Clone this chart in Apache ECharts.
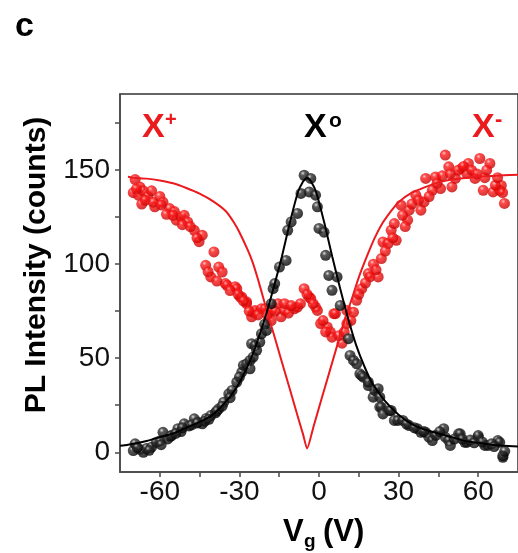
<!DOCTYPE html>
<html>
<head>
<meta charset="utf-8">
<script src="https://cdn.jsdelivr.net/npm/echarts@6/dist/echarts.min.js"></script>
<style>
  html, body { margin: 0; padding: 0; background: #fff; }
  #chart { width: 518px; height: 553px; }
</style>
</head>
<body>
<div id="chart"></div>
<script>
  // measured points, X+ / X- (red) and X0 (black)
  const redVg = [-70, -69.3, -68.1, -67.5, -66.8, -66.2, -64.5, -63.1, -61.9, -60, -58.8, -56.3, -54.5, -53.8, -52, -50.8, -49.5, -47, -45.2, -44,
    -42.7, -40.8, -39.6, -37.8, -36.5, -35.3, -34.7, -31.6, -31, -29.7, -29.1, -27.3, -27.3, -25.4, -24.8, -24.1, -21.7, -20.4, -18, -18,
    -15.5, -14.3, -13, -13, -9.3, -8.1, -5.6, -3.7, -3.1, -1.3, -0.6, 0.6, 3.1, 4.3, 4.9, 5.6, 6.2, 8.7, 10.5, 10.5,
    13, 14.2, 16.1, 18.6, 19.2, 22.3, 23.5, 24.1, 26, 27.2, 28.4, 29.1, 30.9, 33.4, 34, 36.5, 38.4, 39.6, 40.2, 42.7,
    43.9, 45.8, 47.6, 48.9, 50.1, 51.4, 53.8, 55.7, 56.3, 58.8, 60.6, 61.9, 64.4, 65.6, 68.1, 68.7, 69.9,
    -68.8, -65.5, -62.5, -59.5, -57.5, -55, -51.5, -48.5, -46, -41.8, -38.5, -33.5, -30.5, -28.5, -26.3, -23, -19.5, -16.5, -11.5, -10.5,
    -7, -4.5, -2.2, 1.5, 2.5, 7.5, 9.5, 12, 15, 17.5, 20.5, 21.5, 25, 27.8, 31.5, 32.5, 35, 37.5, 41.5, 44.5,
    46.5, 49.5, 52.5, 54.5, 57.5, 59.5, 62.5, 63.2, 66.5, 67.3, 69.2]
  const redPl = [138, 145, 136.7, 141, 132, 139, 136, 139, 130.5, 136, 133, 129.6, 128, 123.4, 125, 126, 122.5, 118, 112, 115.4,
    99.4, 93.2, 106.5, 98.5, 95.8, 89.7, 88.8, 88, 87, 82.5, 82.5, 80, 79, 72, 74.5, 75.4, 76.3, 76.3, 75.4, 70,
    79, 72, 75.4, 79, 76.3, 77.2, 87, 82.5, 81.7, 77.2, 75.4, 68.4, 66.6, 63.9, 61.2, 73.7, 73.7, 58, 68.4, 75.4,
    74.5, 80.8, 87, 95, 93.2, 93.2, 103, 111.8, 111, 118, 121.6, 112.7, 131.4, 123.4, 128.7, 136.7, 128.7, 133.1, 145.6, 139.3,
    146.4, 140.2, 158, 151.8, 141.1, 145.6, 150.9, 148.2, 153.6, 145.6, 156.2, 139.3, 153.6, 138.4, 139.3, 141.9, 132.3,
    140, 134, 133, 131.5, 126.5, 126, 121, 120, 114, 96, 91, 86, 84, 80.5, 75, 73, 73, 75, 74, 78,
    79, 84, 79, 70, 64, 62, 64, 70, 84, 90, 100, 97, 107, 114, 126, 120, 132, 134, 136, 143,
    147, 148, 150, 152, 150, 148, 146, 150, 142, 146, 138]

  const blackVg = [-70, -69.3, -67.5, -66.2, -65, -63.1, -61.3, -60, -58.8, -57, -55.5, -53.2, -52, -50.8, -49, -47, -45.5, -44, -42.5, -40.8,
    -39, -37.8, -35.9, -34, -32.8, -31, -29.1, -28.5, -27.3, -26, -26, -25.4, -24.8, -24.1, -23.5, -22.3, -21.7, -19.8, -18, -17.3,
    -16.7, -14.9, -12.4, -11.8, -10.5, -8.1, -6.8, -5.6, -3.7, -3.1, -1.3, -0.6, 0, 1.9, 2.5, 3.7, 4.9, 6.8, 8, 11.1,
    11.7, 13, 14.2, 15.4, 16.1, 16.7, 18.6, 18.6, 20.4, 21, 22.3, 22.9, 22.9, 23.5, 24.1, 26.6, 27.2, 28.4, 29.7, 31.6,
    34, 37.1, 38.4, 40.2, 41.4, 42.7, 47, 47.6, 48.9, 49.5, 52.6, 53.2, 55, 55.7, 60, 60, 62.5, 63.7, 67.4, 68.1, 69.3, 69.3,
    -68.5, -64, -59.5, -56, -54, -51.5, -48, -46, -43, -41.5, -38.5, -36.5, -33.5, -30, -20.5,
    33, 36, 39.5, 44, 45.5, 51, 54, 57, 58.5, 61.5, 65, 66, 70]
  const blackPl = [0.9, 4.5, 1.5, 0, 2, 2.7, 5.3, 6, 10.6, 7.1, 9, 12.5, 11, 15.1, 14, 17.8, 16, 15.1, 18, 19.5,
    21, 23.1, 26.6, 31.1, 32.9, 37.3, 42.6, 46.2, 47, 48.8, 44.4, 57.7, 50.6, 56.8, 54.2, 58.6, 63, 64.8, 79, 87,
    89.7, 98.5, 102, 118, 122.5, 127, 137.6, 147.3, 138.4, 145.6, 136.7, 130.5, 119, 117, 104.7, 94, 86.1, 93.2, 78.1, 60.4,
    51.5, 48.8, 47, 41.7, 40.8, 39.9, 35.5, 37.3, 29.3, 32.9, 33.8, 29.3, 24, 24, 20.4, 22.2, 22.2, 16.9, 16.9, 16.9,
    14.2, 12.5, 10.6, 10.6, 8, 6.2, 12.5, 8, 6.2, 3.6, 9.8, 9.8, 5.3, 5.3, 8, 8.9, 3.6, 3.6, 6.2, 5.3, -2.7, -1.8,
    2.5, 1, 4, 8.5, 10, 13, 14.5, 15.5, 16.5, 17.5, 22, 24.5, 29, 40, 68,
    15, 13, 11, 9, 11, 7, 7, 6.5, 5, 5.5, 4.5, 3, 0.5]

  // fitted curves
  const fitRedVg = [-72, -70, -65, -60, -55, -50, -45, -40, -35, -32, -30, -27, -25, -23, -21, -19, -17, -14, -11, -8, -6, -4.5,
    -2, 1, 4, 7, 10, 12, 15, 18, 21, 24, 27, 30, 35, 40, 45, 50, 60, 75]
  const fitRedPl = [146.5, 146, 145.5, 144.5, 143, 140.5, 137.5, 133.5, 128, 122, 117, 108, 101, 92, 82, 72, 62.6, 48, 33.6, 19, 9.5, 2,
    14, 28.6, 43, 57.5, 72, 80, 93, 104, 114, 122, 128, 133, 138, 141, 143.5, 145, 146.5, 147.5]
  const fitBlackVg = [-75, -72, -65, -60, -55, -50, -45, -40, -35, -30, -25, -20, -17, -14, -11, -8, -6, -4.5, -3, -1,
    2, 5, 8, 11, 14, 17, 20, 25, 30, 35, 40, 45, 50, 55, 60, 65, 75]
  const fitBlackPl = [3.5, 4, 6, 8, 10, 13, 16, 20, 27, 37, 52, 73, 88, 104, 122, 138, 144, 146, 144, 138,
    122, 104, 87, 71, 57, 46, 37, 27, 20, 15, 12, 10, 8, 6, 5, 4, 3]

  const xMajor = [-60, -30, 0, 30, 60]
  const xTicks = [-60, -45, -30, -15, 0, 15, 30, 45, 60]
  const yMajor = [0, 50, 100, 150]
  const yTicks = [0, 25, 50, 75, 100, 125, 150, 175]

  const pairs = (xs, ys) => xs.map((x, i) => [x, ys[i]])

  const RED = '#ea1a1f'
  const ball = (hi, mid, lo) => ({
    type: 'radial', x: 0.38, y: 0.32, r: 0.72,
    colorStops: [
      { offset: 0, color: hi },
      { offset: 0.28, color: mid },
      { offset: 1, color: lo }
    ]
  })

  const chart = echarts.init(document.getElementById('chart'))
  const font = 'Liberation Sans, Arial, sans-serif'
  const axisCol = '#4a4a4a'

  const option = {
    backgroundColor: '#fff',
    animation: false,
    grid: {
      left: 120, top: 94, width: 404, height: 378,
      show: true, borderColor: '#333', borderWidth: 1.5
    },
    xAxis: {
      type: 'value', min: -75, max: 75,
      splitLine: { show: false },
      axisLine: { onZero: false, lineStyle: { color: axisCol, width: 1.5 } },
      axisTick: { customValues: xTicks, length: 5, lineStyle: { color: axisCol, width: 1.5 } },
      axisLabel: { customValues: xMajor, margin: 6, fontSize: 28, color: '#111', fontFamily: font }
    },
    yAxis: {
      type: 'value', min: -10.5, max: 190.5,
      splitLine: { show: false },
      axisLine: { onZero: false, lineStyle: { color: axisCol, width: 1.5 } },
      axisTick: { customValues: yTicks, length: 5, lineStyle: { color: axisCol, width: 1.5 } },
      axisLabel: { customValues: yMajor, margin: 10, fontSize: 28, color: '#111', fontFamily: font }
    },
    series: [
      {
        type: 'scatter', name: 'X±', data: pairs(redVg, redPl), symbolSize: 11,
        itemStyle: { color: ball('#ffb4b4', '#ff1c1c', '#c40000') }
      },
      {
        type: 'scatter', name: 'X0', data: pairs(blackVg, blackPl), symbolSize: 11,
        itemStyle: { color: ball('#d8d8d8', '#303030', '#000') }
      },
      {
        type: 'line', name: 'fit X±', data: pairs(fitRedVg, fitRedPl), showSymbol: false, smooth: 0.2,
        lineStyle: { color: RED, width: 2 }
      },
      {
        type: 'line', name: 'fit X0', data: pairs(fitBlackVg, fitBlackPl), showSymbol: false, smooth: 0.2,
        lineStyle: { color: '#000', width: 2 }
      }
    ],
    graphic: [
      { type: 'text', left: 15, top: 10, style: { text: 'c', font: 'bold 34px ' + font, fill: '#000' } },
      {
        type: 'text', x: 37, y: 265, rotation: Math.PI / 2,
        style: { text: 'PL Intensity (counts)', font: 'bold 30px ' + font, fill: '#000', textAlign: 'center', textVerticalAlign: 'middle' }
      },
      { type: 'text', x: 283, y: 532, style: { text: 'V', font: 'bold 31px ' + font, fill: '#000', textVerticalAlign: 'middle' } },
      { type: 'text', x: 304, y: 542, style: { text: 'g', font: 'bold 19px ' + font, fill: '#000', textVerticalAlign: 'middle' } },
      { type: 'text', x: 323, y: 532, style: { text: '(V)', font: 'bold 31px ' + font, fill: '#000', textVerticalAlign: 'middle' } },
      { type: 'text', x: 142, y: 128, style: { text: 'X', font: 'bold 34px ' + font, fill: RED, textVerticalAlign: 'middle' } },
      { type: 'text', x: 165, y: 120, style: { text: '+', font: 'bold 20px ' + font, fill: RED, textVerticalAlign: 'middle' } },
      { type: 'text', x: 304, y: 128, style: { text: 'X', font: 'bold 34px ' + font, fill: '#000', textVerticalAlign: 'middle' } },
      { type: 'text', x: 329, y: 121, style: { text: 'o', font: 'bold 21px ' + font, fill: '#000', textVerticalAlign: 'middle' } },
      { type: 'text', x: 472, y: 128, style: { text: 'X', font: 'bold 34px ' + font, fill: RED, textVerticalAlign: 'middle' } },
      { type: 'text', x: 495, y: 120, style: { text: '-', font: 'bold 22px ' + font, fill: RED, textVerticalAlign: 'middle' } }
    ]
  }

  chart.setOption(option)
</script>
</body>
</html>
